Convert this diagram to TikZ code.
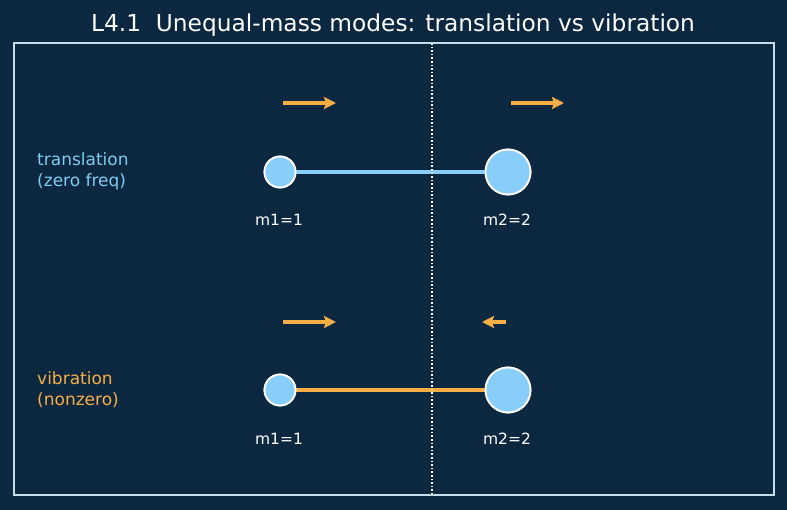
\documentclass[tikz,border=0pt]{standalone}
\usepackage{fontspec}
\setmainfont{DejaVu Sans}
\usepackage{tikz}
\usetikzlibrary{positioning}
\usetikzlibrary{arrows.meta}
\definecolor{bgnavy}{HTML}{0B2840}
\definecolor{framegray}{HTML}{C6DCEA}
\definecolor{massblue}{HTML}{87CEFA}
\definecolor{transblue}{HTML}{7FCBF2}
\definecolor{vibrorange}{HTML}{F7AE45}

\begin{document}
\begin{tikzpicture}[
x=1pt, y=-1pt,
mass/.style={circle, draw=white, fill=massblue, line width=1.8pt, inner sep=0},
light/.style={mass, minimum size=31pt},
heavy/.style={mass, minimum size=45pt},
masslabel/.style={text=white, font=\fontsize{15.5}{18}\selectfont, inner sep=0},
modelabel/.style={align=left, anchor=west, font=\fontsize{17}{21}\selectfont, inner sep=0},
push/.style={-{Stealth[length=12pt,width=12pt,inset=2pt]}, vibrorange, line width=3.8pt},
every path/.style={line cap=butt}
]
\fill[bgnavy] (0,0) rectangle (787,510);
\useasboundingbox (0,0) rectangle (787,510);
\node[text=white, font=\fontsize{23.3}{28}\selectfont] (title) at (393,25) {L4.1\ \ Unequal-mass modes: translation vs vibration};
\draw[framegray, line width=1.6pt] (14,43) rectangle (774,495);
\coordinate (cmtop) at (432,43);
\coordinate (cmbot) at (432,495);
% translation row
\node[light] (a1) at (280,172) {};
\node[heavy] (b1) at (508,172) {};
\node[masslabel] (la1) at (279,220) {m1=1};
\node[masslabel] (lb1) at (507,220) {m2=2};
\node[modelabel, text=transblue] (trans) at (37,171) {translation\\(zero freq)};
% vibration row
\node[light] (a2) at (280,390) {};
\node[heavy] (b2) at (508,390) {};
\node[masslabel] (la2) at (279,439) {m1=1};
\node[masslabel] (lb2) at (507,439) {m2=2};
\node[modelabel, text=vibrorange] (vib) at (37,390) {vibration\\(nonzero)};
% arrow ends
\coordinate (p1) at (283,103); \coordinate (q1) at (336,103);
\coordinate (p2) at (511,103); \coordinate (q2) at (564,103);
\coordinate (p3) at (283,322); \coordinate (q3) at (336,322);
\coordinate (p4) at (506,322); \coordinate (q4) at (482,322);
\draw[massblue, line width=4pt] (a1) -- (b1);
\draw[vibrorange, line width=4pt] (a2) -- (b2);
\node[light] at (a1) {};
\node[heavy] at (b1) {};
\node[light] at (a2) {};
\node[heavy] at (b2) {};
\draw[white, line width=1.6pt, dotted] (cmtop) -- (cmbot);
\draw[push] (p1) -- (q1);
\draw[push] (p2) -- (q2);
\draw[push] (p3) -- (q3);
\draw[push] (p4) -- (q4);
\end{tikzpicture}
\end{document}
